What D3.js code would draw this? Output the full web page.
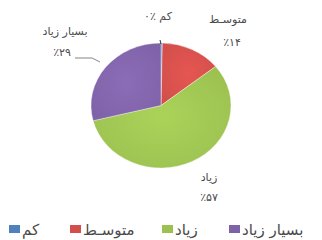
<!DOCTYPE html>
<html>
<head>
<meta charset="utf-8">
<script src="https://d3js.org/d3.v7.min.js"></script>
<style>
body { margin:0; background:#fff; }
text { font-family: "DejaVu Sans", sans-serif; fill:#4a4a4a; }
</style>
</head>
<body>
<svg width="322" height="240"></svg>
<script>
// data (slices clockwise from 12 o'clock)
var cats = ["کم", "متوسـط", "زیاد", "بسیار زیاد"];
var vals = [0.3, 14, 57, 29];
var pctLabels = ["٪۰", "٪۱۴", "٪۵۷", "٪۲۹"];
var colors = ["#4f81bd", "#d24f4b", "#9cc151", "#7f63a8"];

var svg = d3.select("svg");
var cx = 161, cy = 105.5, rx = 70, ry = 62.5;

var defs = svg.append("defs");
colors.forEach(function(c, i) {
  var g = defs.append("radialGradient").attr("id", "g" + i)
    .attr("cx", "50%").attr("cy", "50%").attr("r", "60%");
  g.append("stop").attr("offset", "0%").attr("stop-color", d3.color(c).brighter(0.25));
  g.append("stop").attr("offset", "100%").attr("stop-color", c);
});

var pie = d3.pie().sort(null).value(function(d) { return d; });
var arcs = pie(vals);
var arc = d3.arc().innerRadius(0).outerRadius(rx);

var pg = svg.append("g")
  .attr("transform", "translate(" + cx + "," + cy + ") scale(1," + (ry / rx) + ")");
pg.selectAll("path").data(arcs).enter().append("path")
  .attr("d", arc)
  .attr("fill", function(d, i) { return "url(#g" + i + ")"; })
  .attr("stroke", "#fff").attr("stroke-width", 0.4);

// data labels
var lab = svg.append("g").attr("font-size", 11);
lab.append("text").attr("x", 158).attr("y", 20).attr("text-anchor", "middle")
  .text(cats[0] + " " + pctLabels[0]);
lab.append("line").attr("x1", 160).attr("y1", 40).attr("x2", 161).attr("y2", 44)
  .attr("stroke", "#333").attr("stroke-width", 1);

lab.append("text").attr("x", 228).attr("y", 23).attr("text-anchor", "middle").text(cats[1]);
lab.append("text").attr("x", 232).attr("y", 46).attr("text-anchor", "middle").text(pctLabels[1]);

lab.append("text").attr("x", 209).attr("y", 181).attr("text-anchor", "middle").text(cats[2]);
lab.append("text").attr("x", 209).attr("y", 201).attr("text-anchor", "middle").text(pctLabels[2]);

lab.append("text").attr("x", 65).attr("y", 35).attr("text-anchor", "middle").text(cats[3]);
lab.append("text").attr("x", 62).attr("y", 56).attr("text-anchor", "middle").text(pctLabels[3]);
lab.append("polyline").attr("points", "75,58 92,58 100,62")
  .attr("fill", "none").attr("stroke", "#666").attr("stroke-width", 0.8);

// legend (left to right: کم, متوسط, زیاد, بسیار زیاد)
var legX = [9, 70, 162, 229];
var leg = svg.append("g").attr("font-size", 15);
cats.forEach(function(c, i) {
  leg.append("rect").attr("x", legX[i]).attr("y", 225).attr("width", 11).attr("height", 8)
    .attr("fill", colors[i]);
  leg.append("text").attr("x", legX[i] + 13).attr("y", 235).text(c);
});
</script>
</body>
</html>
